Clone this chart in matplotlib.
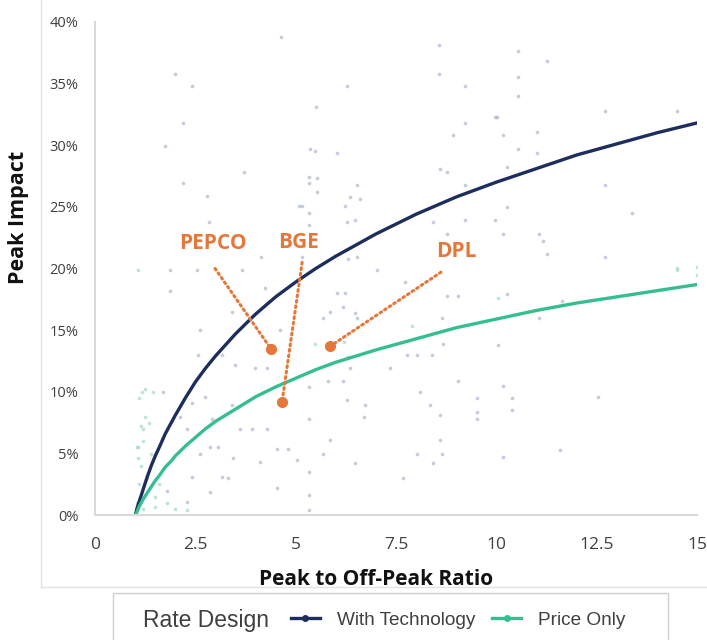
import matplotlib.pyplot as plt
from matplotlib.lines import Line2D
from matplotlib.patches import Rectangle

# fitted curves
curve_x = [1, 1.02, 1.05, 1.1, 1.15, 1.2, 1.3, 1.4, 1.5, 1.6, 1.75, 1.9, 2, 2.25, 2.5, 2.75,
           3, 3.5, 4, 4.5, 5, 5.5, 6, 7, 8, 9, 10, 11, 12, 13, 14, 15]
curve_tech = [0, 0.002, 0.006, 0.011, 0.016, 0.021, 0.031, 0.040, 0.048, 0.055, 0.066, 0.075,
              0.081, 0.095, 0.108, 0.119, 0.129, 0.147, 0.163, 0.177, 0.189, 0.200, 0.210,
              0.228, 0.244, 0.258, 0.270, 0.281, 0.292, 0.301, 0.310, 0.318]
curve_price = [0, 0.001, 0.003, 0.007, 0.010, 0.013, 0.018, 0.023, 0.028, 0.032, 0.039, 0.044,
               0.048, 0.056, 0.063, 0.070, 0.076, 0.086, 0.096, 0.104, 0.111, 0.118, 0.124,
               0.134, 0.143, 0.152, 0.159, 0.166, 0.172, 0.177, 0.182, 0.187]

# faint study results (with technology)
tech_x = [4.63, 1.99, 2.41, 2.20, 1.74, 3.71, 2.20, 2.78, 2.84, 4.13, 5.08,
          8.57, 8.57, 9.22, 6.27, 5.51, 9.97, 9.22, 8.93, 5.36, 5.48, 6.02, 8.60, 8.76, 5.32,
          5.52, 5.32, 6.52, 9.22, 5.52, 6.35, 6.60, 5.15, 6.23, 5.32, 6.27, 6.48, 5.32, 9.22,
          9.97, 8.43, 6.31, 6.52, 8.76, 5.15,
          10.55, 11.26, 10.55, 10.55, 10.01, 12.71, 14.5, 10.17, 11.0, 10.55, 11.0, 10.26,
          12.71, 10.26, 13.37, 10.17, 11.05, 11.17, 11.26, 12.71,
          1.87, 2.53, 3.66, 1.87, 4.24, 3.41, 2.62, 4.61, 2.57, 3.16, 3.49, 3.99, 4.28, 1.70,
          2.74, 3.41, 2.41, 2.12, 2.91, 3.61, 3.90, 4.28, 2.28, 2.87, 3.07, 4.53, 4.82, 2.62,
          3.45, 4.11, 2.41, 3.16, 3.32, 1.79, 2.87, 4.53, 2.28,
          7.02, 7.72, 6.02, 6.23, 9.05, 8.76, 5.86, 6.19, 6.48, 6.52, 5.69, 8.64, 8.68,
          7.77, 8.02, 8.39, 6.31, 6.35, 7.35, 5.81, 6.19, 9.05, 5.32, 8.10, 9.51, 6.27, 6.73,
          8.35, 9.51, 8.60, 6.69, 9.51, 5.32, 5.86, 8.60, 5.69, 8.02, 8.64, 5.03, 6.48, 8.43,
          5.32, 7.68, 5.32, 5.32,
          10.26, 11.63, 11.05, 10.05, 10.17, 10.38, 10.38, 12.54, 11.59, 10.17]
tech_y = [38.8, 35.8, 34.8, 31.8, 29.9, 27.8, 26.9, 25.9, 23.8, 20.9, 25.1,
          38.1, 35.8, 34.8, 34.8, 33.1, 32.3, 31.8, 30.8, 29.7, 29.5, 29.4, 28.1, 27.8, 27.4,
          27.3, 26.9, 26.8, 26.8, 26.2, 25.8, 25.6, 25.1, 25.1, 24.5, 23.8, 23.9, 23.5, 23.9,
          23.9, 23.8, 20.8, 20.9, 22.8, 20.9,
          37.6, 36.8, 35.5, 34.0, 32.3, 32.8, 32.8, 30.8, 31.1, 29.7, 29.4, 28.2,
          26.8, 25.0, 24.5, 22.8, 22.8, 22.2, 21.2, 20.9,
          19.9, 19.9, 19.9, 18.2, 18.4, 16.5, 15.0, 15.0, 13.0, 13.0, 12.2, 11.9, 11.9, 10.0,
          9.6, 8.9, 9.1, 8.0, 7.8, 7.0, 7.0, 7.0, 7.0, 5.5, 5.5, 5.4, 5.4, 5.0,
          4.6, 4.3, 3.1, 3.1, 3.0, 2.0, 1.9, 2.2, 1.1,
          19.9, 18.9, 18.0, 18.0, 17.8, 17.8, 16.5, 16.9, 16.4, 16.0, 16.0, 16.0, 13.9,
          13.0, 13.0, 13.0, 12.8, 11.9, 11.9, 10.9, 10.9, 10.9, 10.4, 10.0, 9.5, 9.3, 8.9,
          8.9, 8.4, 8.1, 8.0, 7.8, 7.8, 6.1, 6.1, 5.0, 5.0, 5.0, 4.5, 4.2, 4.2,
          3.5, 3.0, 1.6, 0.4,
          17.9, 17.4, 16.0, 13.8, 10.5, 9.5, 8.5, 9.6, 5.3, 4.7]

# faint study results (price only)
price_x = [1.08, 1.16, 1.20, 1.08, 1.08, 1.66, 1.50, 1.05, 1.10, 1.15, 1.20, 1.25, 1.10,
           1.30, 1.40, 1.50, 1.20, 1.35, 1.60, 1.80, 2.00, 1.45, 1.25, 1.15, 1.05, 2.3,
           7.89, 5.48, 10.05, 14.5, 15.0, 14.5, 15.0, 6.2]
price_y = [19.9, 10.0, 7.0, 5.5, 4.6, 6.2, 0.7, 1.0, 2.5, 4.0, 6.0, 8.0, 9.5,
           3.0, 5.0, 1.5, 0.5, 7.5, 2.5, 1.0, 0.5, 10.0, 10.2, 7.2, 5.5, 0.4,
           15.3, 13.9, 17.6, 20.0, 20.1, 19.9, 19.5, 14.0]

# highlighted utilities
utilities = ['PEPCO', 'BGE', 'DPL']
util_x = [4.38, 4.66, 5.86]
util_y = [13.5, 9.2, 13.7]
label_x = [2.94, 5.08, 9.0]
label_y = [22.0, 22.1, 21.4]
lead_x = [2.99, 5.16, 8.62]
lead_y = [20.0, 20.5, 19.7]

navy = '#1d2d5c'
green = '#35bf8f'
orange = '#e5773a'

fig = plt.figure(figsize=(7.07, 6.4), dpi=100)
ax = fig.add_axes([0.1344, 0.195, 0.8516, 0.771])

ax.scatter(tech_x, [v / 100 for v in tech_y], s=7, color='#97a5c2', alpha=0.55, linewidths=0)
ax.scatter(price_x, [v / 100 for v in price_y], s=7, color='#9ed8c3', alpha=0.65, linewidths=0)

ax.plot(curve_x, curve_tech, color=navy, lw=2.4, solid_capstyle='round', solid_joinstyle='round')
ax.plot(curve_x, curve_price, color=green, lw=2.4, solid_capstyle='round', solid_joinstyle='round')

for name, px, py, lx, ly, sx, sy in zip(utilities, util_x, util_y, label_x, label_y, lead_x, lead_y):
    ax.plot([sx, px], [sy / 100, py / 100], color=orange, lw=2.2, ls=(0, (0.6, 1.2)),
            dash_capstyle='round')
    ax.plot(px, py / 100, 'o', color=orange, ms=7, zorder=5)
    ax.text(lx, ly / 100, name, color=orange, fontsize=15, fontweight='bold',
            family='Open Sans', ha='center', va='center')

ax.set_xlim(0, 15)
ax.set_ylim(0, 0.4)
ax.set_xticks([0, 2.5, 5, 7.5, 10, 12.5, 15])
ax.set_xticklabels(['0', '2.5', '5', '7.5', '10', '12.5', '15'], family='Open Sans')
ax.set_yticks([0, 0.05, 0.1, 0.15, 0.2, 0.25, 0.3, 0.35, 0.4])
ax.set_yticklabels([f'{p}%' for p in range(0, 45, 5)], family='Open Sans')
ax.tick_params(axis='x', length=0, pad=16, labelsize=12.5, colors='#404040')
ax.tick_params(axis='y', length=0, pad=12, labelsize=10.5, colors='#404040')
for s in ['top', 'right']:
    ax.spines[s].set_visible(False)
for s in ['left', 'bottom']:
    ax.spines[s].set_color('#d9d9d9')
    ax.spines[s].set_linewidth(1.5)

fig.text(0.532, 0.094, 'Peak to Off-Peak Ratio', ha='center', va='center',
         fontsize=15, fontweight='bold', family='Open Sans', color='#111111')
fig.text(0.026, 0.66, 'Peak Impact', ha='center', va='center', rotation=90,
         fontsize=15.5, fontweight='bold', family='Open Sans', color='#111111')

# outer chart frame and legend box
fig.add_artist(Line2D([41 / 707, 41 / 707], [53 / 640, 1.0], color='#e3e3e3', lw=1))
fig.add_artist(Line2D([41 / 707, 1.0], [53 / 640, 53 / 640], color='#e3e3e3', lw=1))
fig.add_artist(Rectangle((113 / 707, -0.02), 555 / 707, 47 / 640 + 0.02,
                         transform=fig.transFigure, fill=False, ec='#d0d0d0', lw=1))
fig.text(143 / 707, 0.031, 'Rate Design', fontsize=16.5, color='#404040',
         family='Liberation Sans', ha='left', va='center')
handles = [Line2D([], [], color=navy, lw=2.4, marker='o', ms=4),
           Line2D([], [], color=green, lw=2.4, marker='o', ms=4)]
fig.legend(handles, ['With Technology', 'Price Only'], ncol=2, frameon=False,
           loc='center left', bbox_to_anchor=(274 / 707, 0.031),
           prop={'family': 'Liberation Sans', 'size': 13.7},
           handlelength=1.5, columnspacing=0.9, handletextpad=0.9,
           labelcolor='#404040')

fig.savefig('out.png', dpi=100)
